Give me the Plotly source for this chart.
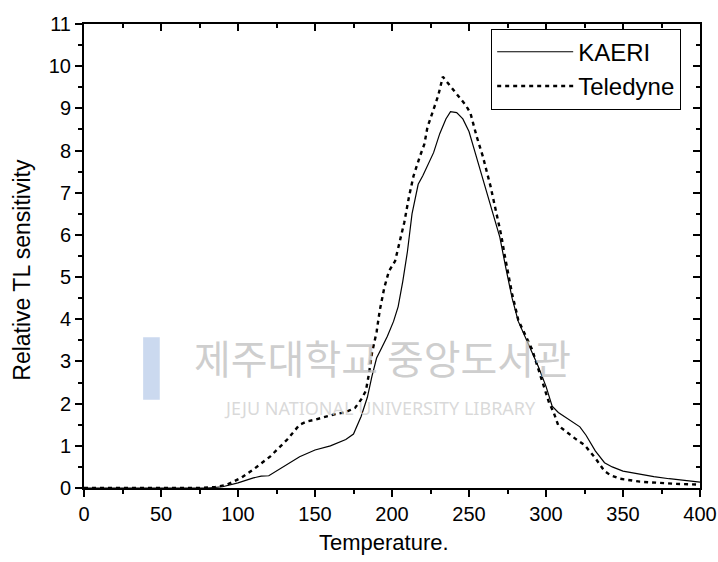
import plotly.graph_objects as go

# ---- data ----
kaeri_T = [0, 20, 40, 60, 80, 90, 100, 110, 115, 120, 130, 140, 150, 160, 170, 175, 180, 184, 187, 190,
           193, 197, 201, 204, 207, 210, 213, 217, 220, 223, 227, 231, 235, 238, 242, 246, 250, 254, 258, 262,
           266, 270, 274, 278, 282, 288, 295, 300, 304, 308, 315, 322, 326, 332, 338, 343, 350, 360, 370, 380,
           390, 400]
kaeri_v = [0.0, 0.0, 0.0, 0.0, 0.0, 0.03, 0.12, 0.24, 0.28, 0.29, 0.52, 0.74, 0.9, 1.0, 1.15, 1.28, 1.7, 2.15, 2.65, 3.08,
           3.3, 3.6, 3.95, 4.3, 4.9, 5.6, 6.5, 7.2, 7.4, 7.65, 7.95, 8.4, 8.75, 8.92, 8.9, 8.75, 8.45, 7.95, 7.45, 6.95,
           6.45, 5.95, 5.2, 4.5, 3.95, 3.45, 2.88, 2.41, 1.94, 1.79, 1.62, 1.45, 1.25, 0.88, 0.6, 0.5, 0.4, 0.33, 0.27, 0.22,
           0.18, 0.14]

teledyne_T = [0, 20, 40, 60, 75, 85, 93, 102, 110, 121, 132, 140, 145, 150, 162, 170, 176, 180, 183, 185,
              187, 190, 192, 195, 198, 202, 205, 208, 211, 214, 218, 221, 223, 227, 230, 233, 236, 240, 244, 248,
              251, 255, 259, 264, 268, 271, 273, 275, 278, 280, 282, 291, 297, 302, 305, 308, 319, 325, 332, 338,
              342, 348, 361, 372, 383, 400]
teledyne_v = [0, 0, 0, 0, 0, 0.02, 0.08, 0.24, 0.44, 0.75, 1.15, 1.5, 1.58, 1.62, 1.74, 1.8, 1.9, 2.1, 2.3, 2.7,
              3.2, 3.7, 4.2, 4.75, 5.14, 5.38, 5.85, 6.3, 6.9, 7.4, 7.85, 8.15, 8.55, 9.0, 9.3, 9.75, 9.62, 9.45, 9.25, 9.07,
              8.88, 8.33, 7.86, 7.15, 6.5, 5.98, 5.55, 5.16, 4.6, 4.3, 3.98, 3.28, 2.57, 2.02, 1.79, 1.48, 1.17, 1.02, 0.71, 0.4,
              0.3, 0.22, 0.15, 0.12, 0.1, 0.08]

x_ticks = [0, 50, 100, 150, 200, 250, 300, 350, 400]
y_ticks = list(range(0, 12))
series_names = ["KAERI", "Teledyne"]
x_title = "Temperature."
y_title = "Relative TL sensitivity"
wm_kr = "제주대학교 중앙도서관"
wm_en = "JEJU NATIONAL UNIVERSITY LIBRARY"

FONT = "Liberation Sans, Arial, sans-serif"

fig = go.Figure()
fig.add_trace(go.Scatter(x=kaeri_T, y=kaeri_v, mode="lines", name=series_names[0],
                         line=dict(color="black", width=1.2)))
fig.add_trace(go.Scatter(x=teledyne_T, y=teledyne_v, mode="lines", name=series_names[1],
                         line=dict(color="black", width=2.4, dash="4px,4px")))
# invisible trace carrying the mirrored (inside-tick) axes
fig.add_trace(go.Scatter(x=[None], y=[None], xaxis="x2", yaxis="y2", showlegend=False,
                         hoverinfo="skip", mode="lines"))

axis_common = dict(showgrid=False, zeroline=False, color="black", automargin=False)

fig.update_layout(
    width=718, height=562,
    margin=dict(l=84, r=18, t=24, b=74, autoexpand=False),
    paper_bgcolor="white", plot_bgcolor="white",
    font=dict(family=FONT, color="black"),
    xaxis=dict(range=[0, 400], tickvals=x_ticks, ticks="outside", ticklen=7, tickwidth=1.5,
               minor=dict(dtick=25, tick0=0, ticks="outside", ticklen=4, tickwidth=1.5),
               showline=True, linewidth=2, linecolor="black", mirror=True,
               ticklabeloverflow="allow",
               tickfont=dict(size=20, family=FONT), **axis_common),
    yaxis=dict(range=[0, 11], tickvals=y_ticks, ticks="outside", ticklen=7, tickwidth=1.5,
               minor=dict(dtick=0.5, tick0=0, ticks="outside", ticklen=4, tickwidth=1.5),
               showline=True, linewidth=2, linecolor="black", mirror=True,
               ticklabeloverflow="allow",
               tickfont=dict(size=20, family=FONT), **axis_common),
    xaxis2=dict(overlaying="x", side="top", anchor="y2", range=[0, 400], tickvals=x_ticks,
                ticks="inside", ticklen=7, tickwidth=1.5,
                minor=dict(dtick=25, tick0=0, ticks="inside", ticklen=4, tickwidth=1.5),
                showticklabels=False, showline=False, **axis_common),
    yaxis2=dict(overlaying="y", side="right", anchor="x2", range=[0, 11], tickvals=y_ticks,
                ticks="inside", ticklen=7, tickwidth=1.5,
                minor=dict(dtick=0.5, tick0=0, ticks="inside", ticklen=4, tickwidth=1.5),
                showticklabels=False, showline=False, **axis_common),
    legend=dict(x=0.661, y=0.99, xanchor="left", yanchor="top", bgcolor="white",
                bordercolor="black", borderwidth=1, font=dict(size=24, family=FONT),
                itemwidth=76, tracegroupgap=0),
    showlegend=True,
)

annotations = [
    dict(text=y_title, xref="paper", yref="paper", x=-0.101, y=0.47, showarrow=False,
         textangle=-90, font=dict(size=23, family=FONT), xanchor="center", yanchor="middle"),
    dict(text=x_title, xref="paper", yref="paper", x=0.487, y=-0.118, showarrow=False,
         font=dict(size=22, family=FONT), xanchor="center", yanchor="middle"),
    dict(text=wm_kr, xref="paper", yref="paper", x=0.484, y=0.282, showarrow=False,
         font=dict(size=40, family="Noto Sans CJK KR", color="rgba(190,190,190,0.75)"),
         xanchor="center", yanchor="middle"),
    dict(text=wm_en, xref="paper", yref="paper", x=0.481, y=0.172, showarrow=False,
         font=dict(size=18, family="Noto Sans", color="rgba(205,205,205,0.75)"),
         xanchor="center", yanchor="middle"),
]
fig.update_layout(annotations=annotations)

# faint library logo bar
fig.add_shape(type="rect", xref="paper", yref="paper", x0=0.096, x1=0.123, y0=0.19, y1=0.325,
              fillcolor="rgba(160,185,225,0.55)", line=dict(width=0), layer="below")

fig.write_html("out.html")
